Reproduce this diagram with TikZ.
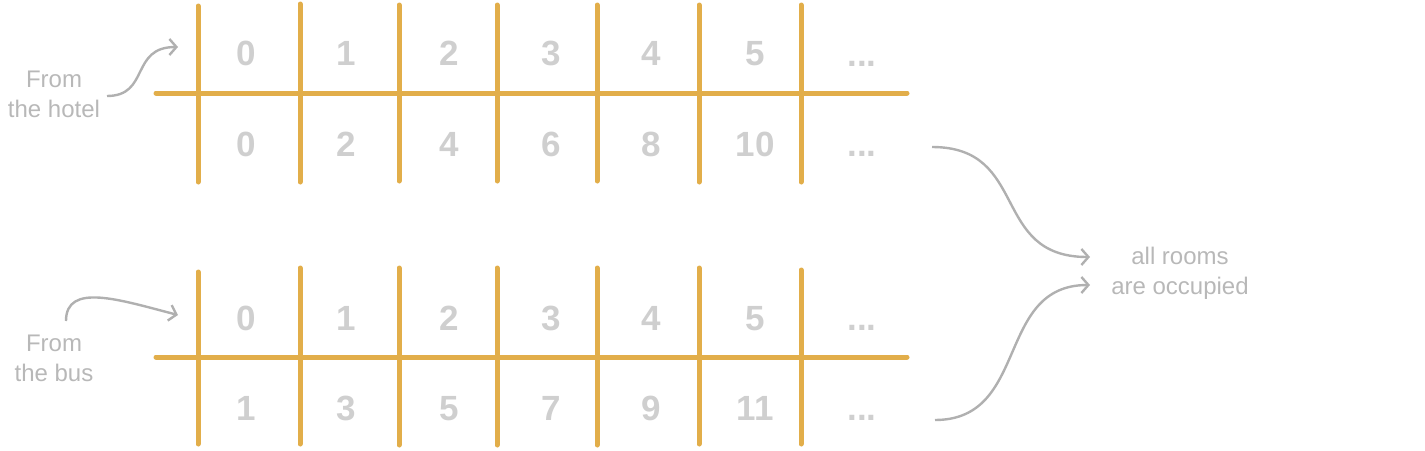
\documentclass[tikz,border=0pt]{standalone}
\usepackage{fontspec}
\setmainfont{Liberation Sans}
\usetikzlibrary{arrows.meta}
\definecolor{gold}{HTML}{E2AE4A}
\definecolor{digit}{HTML}{CFCFCF}
\definecolor{note}{HTML}{B8B8B8}
\definecolor{arrowc}{HTML}{B0B0B0}
\tikzset{
  gridline/.style={gold, line width=5pt, line cap=round},
  num/.style={digit, font=\fontsize{35}{35}\selectfont\bfseries, anchor=base, inner sep=0pt},
  label/.style={note, font=\fontsize{24}{30}\selectfont, align=center, inner sep=0pt},
  curvy/.style={arrowc, line width=2.4pt, -{Straight Barb[length=7pt,width=16pt,line width=2.4pt]}}
}
\begin{document}
\begin{tikzpicture}[x=1pt,y=-1pt]
\useasboundingbox (0,0) rectangle (1425,450);
% top grid
\foreach \x/\t/\b [count=\i] in {198/6/182,300/4/182,399/5/181,497/5/181,597/5/181,699/5/182,801/5/182}{
  \coordinate (tt\i) at (\x,\t); \coordinate (tb\i) at (\x,\b);
  \draw[gridline] (tt\i) -- (tb\i);
}
\coordinate (tl) at (156,93); \coordinate (tr) at (907,93);
\draw[gridline] (tl) -- (tr);
% bottom grid
\foreach \x/\t/\b [count=\i] in {198/272/444,300/268/444,399/268/445,497/268/445,597/268/445,699/268/444,801/270/444}{
  \coordinate (bt\i) at (\x,\t); \coordinate (bb\i) at (\x,\b);
  \draw[gridline] (bt\i) -- (bb\i);
}
\coordinate (bl) at (156,357); \coordinate (br) at (907,357);
\draw[gridline] (bl) -- (br);
% numbers
\foreach \x/\a/\b/\c/\d [count=\i] in {246/0/0/0/1, 346/1/2/1/3, 449/2/4/2/5, 551/3/6/3/7, 651/4/8/4/9, 755/5/10/5/11}{
  \node[num] (ra\i) at (\x,65) {\a};
  \node[num] (rb\i) at (\x,156) {\b};
  \node[num] (rc\i) at (\x,330) {\c};
  \node[num] (rd\i) at (\x,420) {\d};
}
\node[num] (ra7) at (862,66) {...};
\node[num] (rb7) at (862,156) {...};
\node[num] (rc7) at (862,330) {...};
\node[num] (rd7) at (862,420) {...};
% labels
\node[label] (hotel) at (54,94) {From\\the hotel};
\node[label] (bus) at (54,358) {From\\the bus};
\node[label] (occ) at (1180,273) {all rooms\\are occupied};
% arrows
\coordinate (h0) at (107,96); \coordinate (h1) at (178,47);
\draw[curvy] (h0) .. controls (150,96) and (130,47) .. (h1);
\coordinate (b0) at (66,321); \coordinate (b1) at (178,315);
\draw[curvy] (b0) .. controls (66,282) and (120,300) .. (b1);
\coordinate (o0) at (932,147); \coordinate (o1) at (1090,257);
\draw[curvy] (o0) .. controls (1030,147) and (990,257) .. (o1);
\coordinate (p0) at (935,420); \coordinate (p1) at (1090,285);
\draw[curvy] (p0) .. controls (1030,420) and (995,285) .. (p1);
\end{tikzpicture}
\end{document}
